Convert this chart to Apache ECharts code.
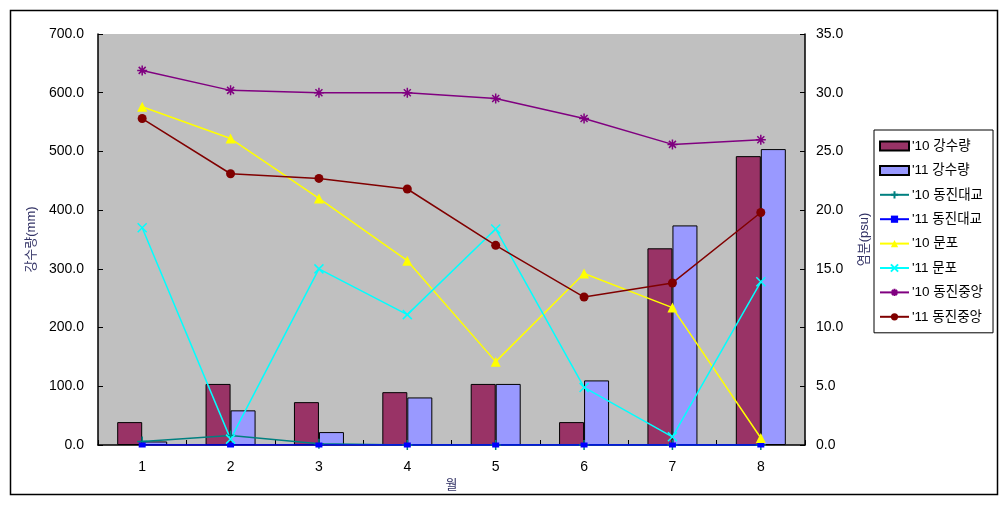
<!DOCTYPE html>
<html>
<head>
<meta charset="utf-8">
<script src="https://cdn.jsdelivr.net/npm/echarts@6/dist/echarts.min.js"></script>
<style>
html,body{margin:0;padding:0;background:#fff;}
#chart{width:1007px;height:511px;}
</style>
</head>
<body>
<div id="chart"></div>
<script>
var months = ['1','2','3','4','5','6','7','8'];
var rain10 = [39, 104, 73, 90, 104, 39, 335, 492];
var rain11 = [6, 59, 22, 81, 104, 110, 374, 504];
var dongjinBridge10 = [0.3, 0.8, 0.1, 0, 0, 0, 0, 0];
var dongjinBridge11 = [0, 0, 0, 0, 0, 0, 0, 0];
var munpo10 = [28.8, 26.1, 21.0, 15.7, 7.1, 14.6, 11.7, 0.6];
var munpo11 = [18.5, 0.5, 15.0, 11.1, 18.4, 4.9, 0.7, 13.9];
var dongjinCenter10 = [31.9, 30.2, 30.0, 30.0, 29.5, 27.8, 25.6, 26.0];
var dongjinCenter11 = [27.8, 23.1, 22.7, 21.8, 17.0, 12.6, 13.8, 19.8];
var leftTicks = {min: 0, max: 700, interval: 100};
var rightTicks = {min: 0, max: 35, interval: 5};

var FONT = '"Liberation Sans", Arial, "Noto Sans CJK KR", sans-serif';
var chart = echarts.init(document.getElementById('chart'), null, {renderer: 'canvas'});

var PLUS = 'path://M0,5 L10,5 M5,0 L5,10';
var CROSS = 'path://M0,0 L10,10 M10,0 L0,10';
var STAR = 'path://M0,5 L10,5 M5,0 L5,10 M1.5,1.5 L8.5,8.5 M8.5,1.5 L1.5,8.5';

function lineSeries(name, data, color, symbol, size, filled, width) {
  return {
    name: name, type: 'line', yAxisIndex: 1, data: data,
    symbol: symbol, symbolSize: size, showSymbol: true,
    lineStyle: {color: color, width: width || 1.5},
    itemStyle: filled ? {color: color} : {color: 'none', borderColor: color, borderWidth: 1.5},
    emphasis: {disabled: true},
    animation: false, z: 3
  };
}

var option = {
  animation: false,
  backgroundColor: '#fff',
  textStyle: {fontFamily: FONT},
  graphic: [{
    type: 'rect', shape: {x: 10.5, y: 10.5, width: 987, height: 484},
    style: {fill: 'none', stroke: '#000', lineWidth: 1.5}, z: -10
  }],
  grid: {left: 98, right: 202, top: 34, bottom: 66, show: true, backgroundColor: '#C0C0C0', borderWidth: 0},
  legend: {
    orient: 'vertical', left: 874, top: 130, width: 120,
    padding: [9, 10, 9, 5], borderColor: '#000', borderWidth: 1, backgroundColor: '#fff',
    itemWidth: 29, itemHeight: 9, itemGap: 10.4,
    textStyle: {fontFamily: FONT, fontSize: 13.5, color: '#000', lineHeight: 14, padding: [0,0,0,-2]},
    data: [
      {name: "'10 강수량", icon: 'rect'}, {name: "'11 강수량", icon: 'rect'},
      "'10 동진대교", "'11 동진대교", "'10 문포", "'11 문포", "'10 동진중앙", "'11 동진중앙"]
  },
  xAxis: {
    type: 'category', data: months, boundaryGap: true,
    name: '월', nameLocation: 'middle', nameGap: 33,
    nameTextStyle: {fontFamily: FONT, fontSize: 13, color: '#333366'},
    axisLine: {show: true, lineStyle: {color: '#000', width: 1.5}},
    axisTick: {show: true, inside: true, length: 5, lineStyle: {color: '#000'}},
    axisLabel: {fontFamily: FONT, fontSize: 14, color: '#000', margin: 15},
    splitLine: {show: false}
  },
  yAxis: [{
    type: 'value', min: leftTicks.min, max: leftTicks.max, interval: leftTicks.interval,
    name: '강수량(mm)', nameLocation: 'middle', nameGap: 60, nameRotate: 90,
    nameTextStyle: {fontFamily: FONT, fontSize: 13, color: '#333366'},
    axisLine: {show: true, lineStyle: {color: '#000', width: 1.5}},
    axisTick: {show: true, inside: true, length: 5, lineStyle: {color: '#000'}},
    axisLabel: {fontFamily: FONT, fontSize: 14, color: '#000', margin: 14, formatter: function(v){return v.toFixed(1);}},
    splitLine: {show: false}
  }, {
    type: 'value', min: rightTicks.min, max: rightTicks.max, interval: rightTicks.interval,
    name: '염분(psu)', nameLocation: 'middle', nameGap: 53, nameRotate: 90,
    nameTextStyle: {fontFamily: FONT, fontSize: 13, color: '#333366'},
    axisLine: {show: true, lineStyle: {color: '#000', width: 1.5}},
    axisTick: {show: true, inside: true, length: 5, lineStyle: {color: '#000'}},
    axisLabel: {fontFamily: FONT, fontSize: 14, color: '#000', margin: 11, formatter: function(v){return v.toFixed(1);}},
    splitLine: {show: false}
  }],
  series: [
    {name: "'10 강수량", type: 'bar', data: rain10, barWidth: 25, barGap: '0%',
     itemStyle: {color: '#993366', borderColor: '#000', borderWidth: 1}, emphasis: {disabled: true}, z: 2},
    {name: "'11 강수량", type: 'bar', data: rain11, barWidth: 25, barGap: '0%',
     itemStyle: {color: '#9999FF', borderColor: '#000', borderWidth: 1}, emphasis: {disabled: true}, z: 2},
    lineSeries("'10 동진대교", dongjinBridge10, '#008080', PLUS, 10, false),
    lineSeries("'11 동진대교", dongjinBridge11, '#0000FF', 'rect', [7, 5], true),
    lineSeries("'10 문포", munpo10, '#FFFF00', 'triangle', 10, true),
    lineSeries("'11 문포", munpo11, '#00FFFF', CROSS, 9, false),
    lineSeries("'10 동진중앙", dongjinCenter10, '#800080', STAR, 10, false),
    lineSeries("'11 동진중앙", dongjinCenter11, '#800000', 'circle', 9, true)
  ]
};
chart.setOption(option);
</script>
</body>
</html>
